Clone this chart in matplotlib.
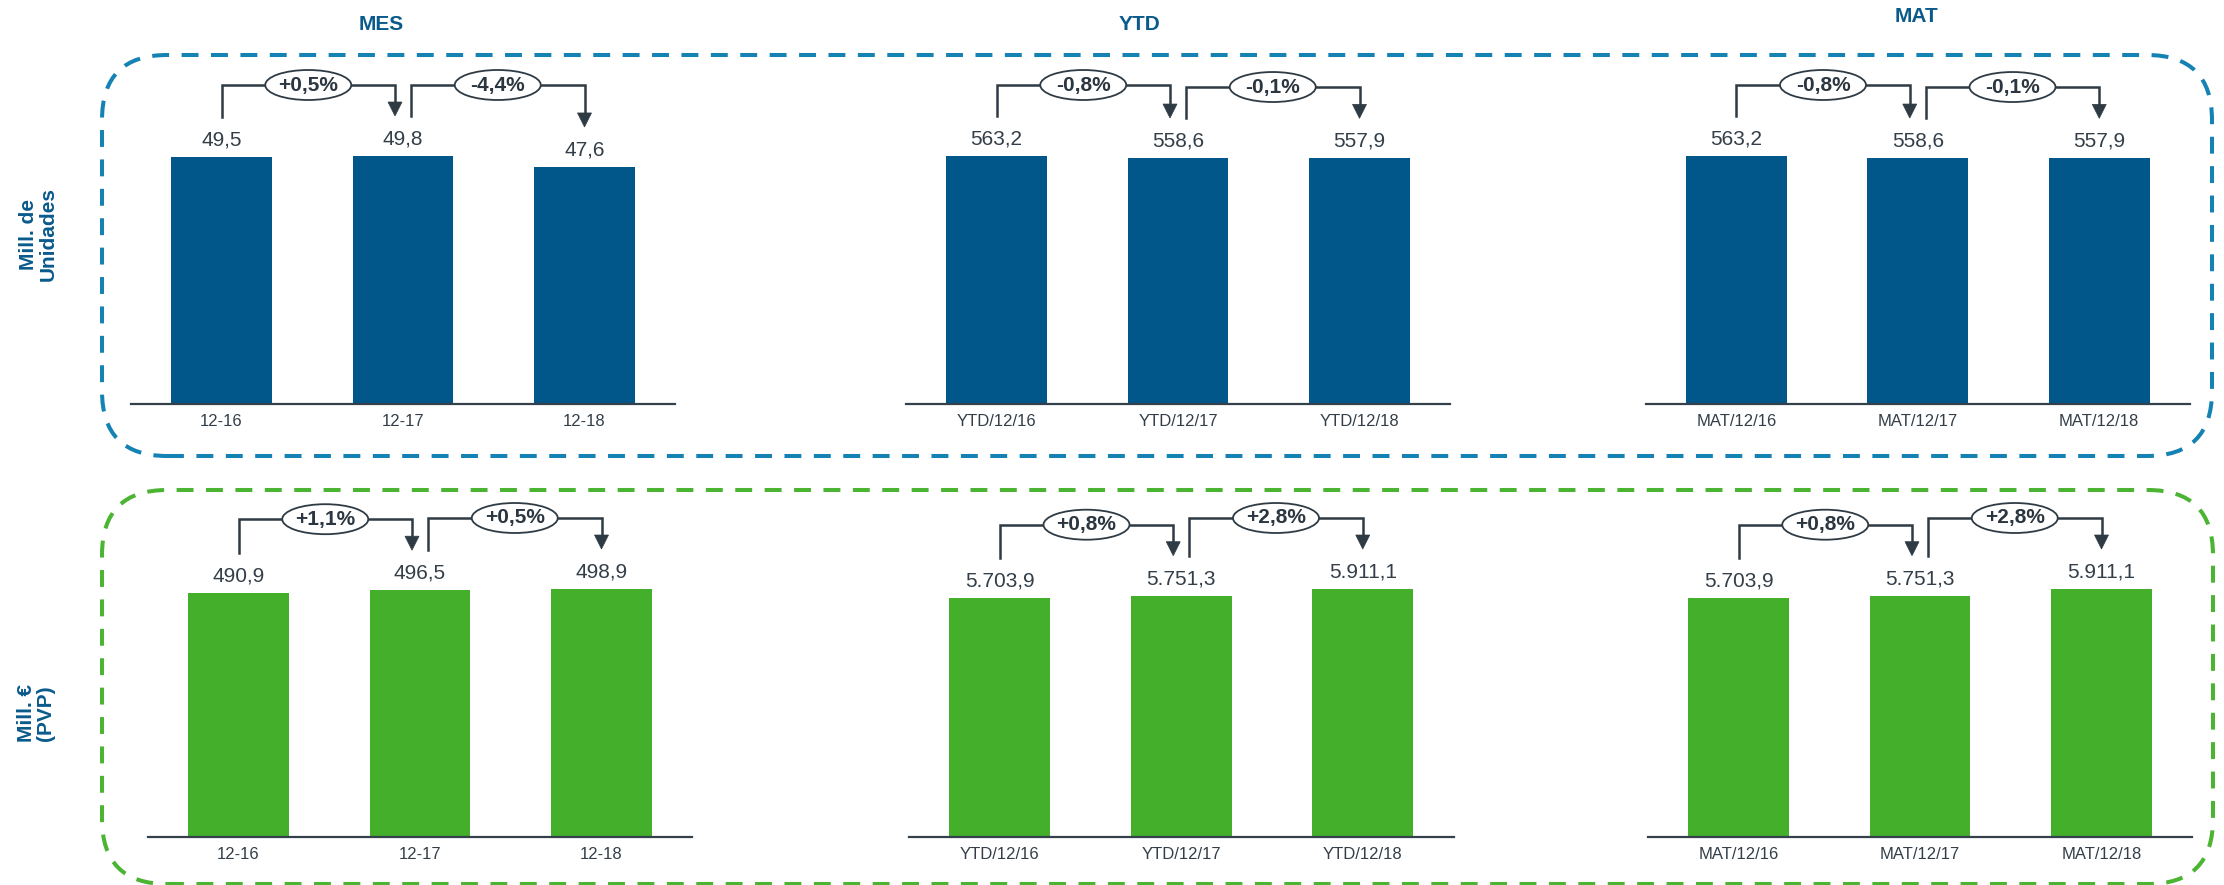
import matplotlib
matplotlib.use("Agg")
import matplotlib.pyplot as plt
from matplotlib.patches import FancyBboxPatch, Ellipse, Polygon
from matplotlib.lines import Line2D
from matplotlib.transforms import IdentityTransform

plt.rcParams['font.family'] = ['Liberation Sans', 'DejaVu Sans']

# --- data -------------------------------------------------------------
cats_mes = ['12-16', '12-17', '12-18']
cats_ytd = ['YTD/12/16', 'YTD/12/17', 'YTD/12/18']
cats_mat = ['MAT/12/16', 'MAT/12/17', 'MAT/12/18']

units_mes = [49.5, 49.8, 47.6]
units_ytd = [563.2, 558.6, 557.9]
units_mat = [563.2, 558.6, 557.9]

euros_mes = [490.9, 496.5, 498.9]
euros_ytd = [5703.9, 5751.3, 5911.1]
euros_mat = [5703.9, 5751.3, 5911.1]

units_mes_chg = ['+0,5%', '-4,4%']
units_ytd_chg = ['-0,8%', '-0,1%']
units_mat_chg = ['-0,8%', '-0,1%']
euros_mes_chg = ['+1,1%', '+0,5%']
euros_ytd_chg = ['+0,8%', '+2,8%']
euros_mat_chg = ['+0,8%', '+2,8%']

titles = ['MES', 'YTD', 'MAT']
row_labels = ['Mill. de\nUnidades', 'Mill. €\n(PVP)']

# --- style ------------------------------------------------------------
W, H = 2224, 885
BLUE = '#01568A'
GREEN = '#44AF2B'
DASH_BLUE = '#1582B4'
DASH_GREEN = '#4BB432'
TITLE_BLUE = '#0A5A8C'
DARK = '#333E48'
LINE = '#2F3B44'

fig = plt.figure(figsize=(W / 100, H / 100), dpi=100)


def fx(px):
    return px / W


def fy(py):
    # py measured from the top of the image
    return 1 - py / H


def fmt(v):
    s = f"{v:,.1f}"
    return s.replace(',', 'X').replace('.', ',').replace('X', '.')


# rounded dashed frames (drawn in inches so the corners stay round)
def frame(x0, y0, x1, y1, color):
    box = FancyBboxPatch((x0 / 100, (H - y1) / 100), (x1 - x0) / 100, (y1 - y0) / 100,
                         boxstyle="round,pad=0,rounding_size=0.65",
                         transform=fig.dpi_scale_trans, fill=False,
                         edgecolor=color, linewidth=2.9,
                         linestyle=(0, (4.2, 3.1)))
    fig.patches.append(box)


frame(102, 55, 2212, 456, DASH_BLUE)
frame(102, 490, 2213, 884, DASH_GREEN)

# titles and row labels
for t, (x, y) in zip(titles, [(381, 24), (1139, 24), (1916, 16)]):
    fig.text(fx(x), fy(y), t, ha='center', va='center', fontsize=15,
             fontweight='bold', color=TITLE_BLUE)
for lab, (x, y) in zip(row_labels, [(38, 234), (36, 713)]):
    fig.text(fx(x), fy(y), lab, ha='center', va='center', rotation=90,
             fontsize=15, fontweight='bold', color=TITLE_BLUE,
             multialignment='center', linespacing=1.05)

AX_W = 544.5
AX_H = 372
panels = [
    # left px, baseline px, cats, values, changes, colour
    (130.75, 404, cats_mes, units_mes, units_mes_chg, BLUE),
    (905.75, 404, cats_ytd, units_ytd, units_ytd_chg, BLUE),
    (1645.5, 404, cats_mat, units_mat, units_mat_chg, BLUE),
    (147.75, 837, cats_mes, euros_mes, euros_mes_chg, GREEN),
    (909.0, 837, cats_ytd, euros_ytd, euros_ytd_chg, GREEN),
    (1647.75, 837, cats_mat, euros_mat, euros_mat_chg, GREEN),
]


def bracket(ax, i, j, vals, label, n):
    to_px = ax.transData.transform
    x0, top0 = to_px((i, vals[i]))
    x1, top1 = to_px((j, vals[j]))
    if i > 0:
        x0 += 8
    if j < n - 1:
        x1 -= 8
    y0 = top0 + 40
    y1 = top1 + 40
    level = max(y0, y1) + 31
    ident = IdentityTransform()
    ln = Line2D([x0, x0, x1, x1], [y0, level, level, y1 + 14],
                transform=ident, color=LINE, linewidth=1.8,
                solid_joinstyle='miter')
    fig.lines.append(ln)
    tri = Polygon([[x1 - 7, y1 + 14], [x1 + 7, y1 + 14], [x1, y1]],
                  closed=True, transform=ident, facecolor=LINE,
                  edgecolor=LINE, linewidth=0.5)
    fig.patches.append(tri)
    xm = (x0 + x1) / 2
    ell = Ellipse((xm, level), 86, 30, transform=ident, facecolor='white',
                  edgecolor=LINE, linewidth=1.3, zorder=3)
    fig.patches.append(ell)
    fig.text(xm, level, label, transform=ident, ha='center', va='center',
             fontsize=15, fontweight='bold', color='#2B3640', zorder=4)


for left, base, cats, vals, chg, col in panels:
    ax = fig.add_axes([fx(left), fy(base), fx(AX_W), AX_H / H])
    x = range(len(cats))
    ax.bar(x, vals, width=0.556, color=col)
    ax.set_xlim(-0.5, len(cats) - 0.5)
    ax.set_ylim(0, 1.5 * max(vals))
    ax.set_xticks(list(x))
    ax.set_xticklabels(cats, fontsize=12, color=DARK)
    ax.tick_params(axis='x', length=0, pad=7)
    ax.set_yticks([])
    for s in ['top', 'right', 'left']:
        ax.spines[s].set_visible(False)
    ax.spines['bottom'].set_color('#34414B')
    ax.spines['bottom'].set_linewidth(1.6)
    ax.patch.set_alpha(0)
    for xi, v in zip(x, vals):
        ax.annotate(fmt(v), (xi, v), xytext=(0, 17), textcoords='offset pixels',
                    ha='center', va='center', fontsize=15, color=DARK)
    for k, lab in enumerate(chg):
        bracket(ax, k, k + 1, vals, lab, len(vals))

fig.savefig('out.png', dpi=100)
